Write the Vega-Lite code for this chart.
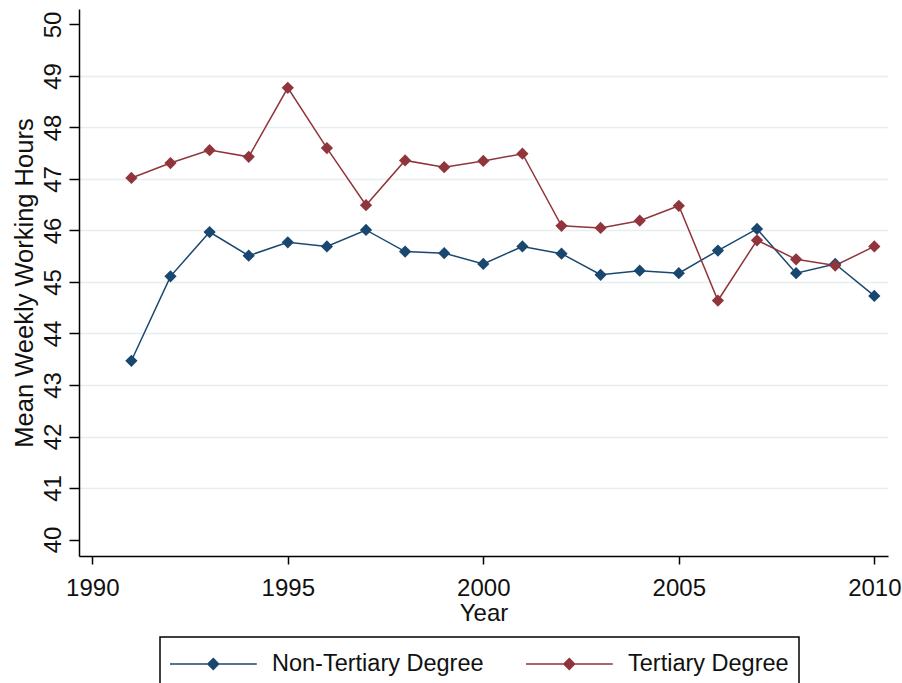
{
  "$schema": "https://vega.github.io/schema/vega-lite/v6.json",
  "autosize": "none",
  "width": 809,
  "height": 547,
  "padding": {"left": 79, "top": 9, "right": 14, "bottom": 127},
  "background": "white",
  "config": {
    "view": {"stroke": null},
    "font": "Liberation Sans",
    "axis": {
      "domainColor": "#000000",
      "domainWidth": 1.5,
      "tickColor": "#000000",
      "tickWidth": 1.5,
      "labelColor": "#111111",
      "titleColor": "#111111",
      "labelFont": "Liberation Sans",
      "titleFont": "Liberation Sans",
      "labelFontSize": 24,
      "titleFontSize": 24,
      "titleFontWeight": "normal"
    },
    "legend": {
      "labelFont": "Liberation Sans",
      "labelFontSize": 23.5,
      "labelColor": "#111111"
    }
  },
  "data": {
    "values": [
      {"year": 1991, "group": "Non-Tertiary Degree", "hours": 43.47},
      {"year": 1992, "group": "Non-Tertiary Degree", "hours": 45.11},
      {"year": 1993, "group": "Non-Tertiary Degree", "hours": 45.97},
      {"year": 1994, "group": "Non-Tertiary Degree", "hours": 45.51},
      {"year": 1995, "group": "Non-Tertiary Degree", "hours": 45.77},
      {"year": 1996, "group": "Non-Tertiary Degree", "hours": 45.69},
      {"year": 1997, "group": "Non-Tertiary Degree", "hours": 46.01},
      {"year": 1998, "group": "Non-Tertiary Degree", "hours": 45.59},
      {"year": 1999, "group": "Non-Tertiary Degree", "hours": 45.56},
      {"year": 2000, "group": "Non-Tertiary Degree", "hours": 45.35},
      {"year": 2001, "group": "Non-Tertiary Degree", "hours": 45.69},
      {"year": 2002, "group": "Non-Tertiary Degree", "hours": 45.55},
      {"year": 2003, "group": "Non-Tertiary Degree", "hours": 45.14},
      {"year": 2004, "group": "Non-Tertiary Degree", "hours": 45.22},
      {"year": 2005, "group": "Non-Tertiary Degree", "hours": 45.17},
      {"year": 2006, "group": "Non-Tertiary Degree", "hours": 45.61},
      {"year": 2007, "group": "Non-Tertiary Degree", "hours": 46.03},
      {"year": 2008, "group": "Non-Tertiary Degree", "hours": 45.17},
      {"year": 2009, "group": "Non-Tertiary Degree", "hours": 45.35},
      {"year": 2010, "group": "Non-Tertiary Degree", "hours": 44.73},
      {"year": 1991, "group": "Tertiary Degree", "hours": 47.02},
      {"year": 1992, "group": "Tertiary Degree", "hours": 47.31},
      {"year": 1993, "group": "Tertiary Degree", "hours": 47.56},
      {"year": 1994, "group": "Tertiary Degree", "hours": 47.43},
      {"year": 1995, "group": "Tertiary Degree", "hours": 48.77},
      {"year": 1996, "group": "Tertiary Degree", "hours": 47.60},
      {"year": 1997, "group": "Tertiary Degree", "hours": 46.49},
      {"year": 1998, "group": "Tertiary Degree", "hours": 47.36},
      {"year": 1999, "group": "Tertiary Degree", "hours": 47.23},
      {"year": 2000, "group": "Tertiary Degree", "hours": 47.35},
      {"year": 2001, "group": "Tertiary Degree", "hours": 47.49},
      {"year": 2002, "group": "Tertiary Degree", "hours": 46.09},
      {"year": 2003, "group": "Tertiary Degree", "hours": 46.05},
      {"year": 2004, "group": "Tertiary Degree", "hours": 46.19},
      {"year": 2005, "group": "Tertiary Degree", "hours": 46.48},
      {"year": 2006, "group": "Tertiary Degree", "hours": 44.64},
      {"year": 2007, "group": "Tertiary Degree", "hours": 45.81},
      {"year": 2008, "group": "Tertiary Degree", "hours": 45.44},
      {"year": 2009, "group": "Tertiary Degree", "hours": 45.32},
      {"year": 2010, "group": "Tertiary Degree", "hours": 45.69}
    ]
  },
  "encoding": {
    "x": {
      "field": "year",
      "type": "quantitative",
      "scale": {"domain": [1989.66, 2010.35], "nice": false, "zero": false},
      "axis": {
        "title": "Year",
        "values": [1990, 1995, 2000, 2005, 2010],
        "format": "d",
        "grid": false,
        "tickSize": 8,
        "labelPadding": 12,
        "titlePadding": 1,
        "labelFlush": false
      }
    },
    "y": {
      "field": "hours",
      "type": "quantitative",
      "scale": {"domain": [39.68, 50.3], "nice": false, "zero": false},
      "axis": {
        "title": "Mean Weekly Working Hours",
        "titleFontSize": 25.5,
        "values": [40, 41, 42, 43, 44, 45, 46, 47, 48, 49, 50],
        "format": "d",
        "grid": true,
        "gridColor": "#e6eef0",
        "gridWidth": 1.5,
        "gridOpacity": {"condition": {"test": "datum.value === 40 || datum.value === 50", "value": 0}, "value": 1},
        "tickSize": 10,
        "labelAngle": -90,
        "labelAlign": "center",
        "labelBaseline": "alphabetic",
        "labelPadding": 9,
        "titlePadding": 4,
        "labelFlush": false
      }
    },
    "color": {
      "field": "group",
      "type": "nominal",
      "scale": {"domain": ["Non-Tertiary Degree", "Tertiary Degree"], "range": ["#1a476f", "#90353b"]},
      "legend": {
        "title": null,
        "orient": "none",
        "legendX": 81,
        "legendY": 628,
        "direction": "horizontal",
        "columns": 2,
        "padding": 10,
        "strokeColor": "#000000",
        "fillColor": "white",
        "clipHeight": 34,
        "columnPadding": 42,
        "labelLimit": 400,
        "symbolType": "M-7.25,0L7.25,0M0,-0.9L0.9,0L0,0.9L-0.9,0Z",
        "symbolSize": 144,
        "symbolStrokeWidth": 1.5,
        "symbolOffset": 31.5,
        "labelOffset": 47,
        "encode": {
          "legend": {
            "update": {
              "strokeWidth": {"value": 1.5}
            }
          },
          "symbols": {
            "update": {
              "fill": {"scale": "color", "field": "value"},
              "stroke": {"scale": "color", "field": "value"},
              "opacity": {"value": 1}
            }
          }
        }
      }
    }
  },
  "layer": [
    {"mark": {"type": "line", "strokeWidth": 1.5}},
    {"mark": {"type": "point", "shape": "diamond", "filled": true, "size": 150, "opacity": 1}}
  ]
}
